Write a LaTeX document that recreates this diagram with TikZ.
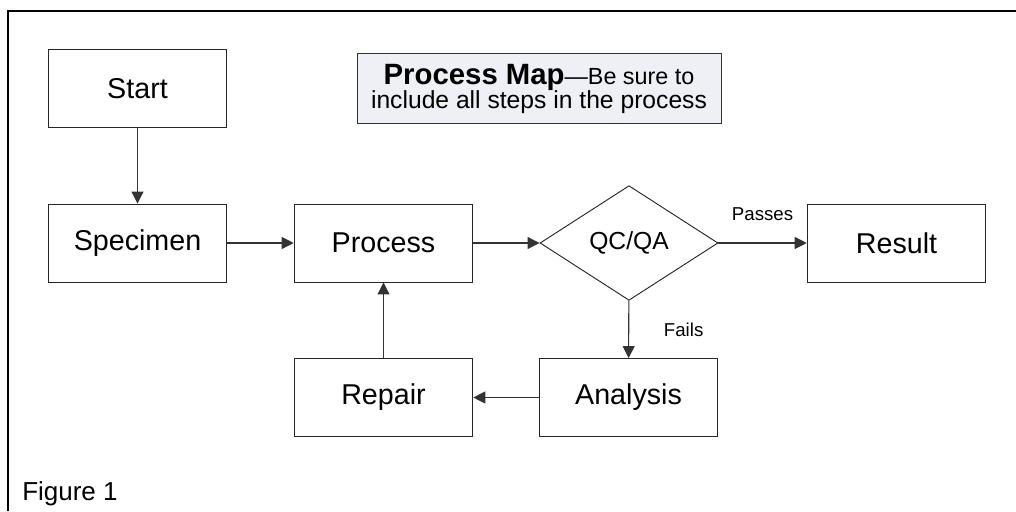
\documentclass[tikz,border=0pt]{standalone}
\usepackage{fontspec}
\setmainfont{Liberation Sans}
\usepackage{xcolor}
\usepackage{tikz}
\usetikzlibrary{arrows.meta,positioning,shapes.geometric}

\begin{document}
\begin{tikzpicture}[
    x=0.75pt,y=-0.75pt,
    stepbox/.style={draw=black!85,line width=0.7pt,minimum width=134pt,minimum height=58.5pt,
      inner sep=0pt,font=\fontsize{21.5}{24}\selectfont},
    flow/.style={draw=flowline,line width=0.8pt,-{Triangle[length=9pt,width=9pt]}},
    tag/.style={font=\fontsize{14}{16}\selectfont,inner sep=0pt}
  ]
  \colorlet{flowline}{black!80}
  \definecolor{notefill}{RGB}{238,240,245}
  \useasboundingbox (0,0) rectangle (1016,511);
  % frame
  \draw [line width=1.6pt] (8,511) -- (8,11) -- (1016,11);
  % boxes
  \node [stepbox] (start) at (137.5,88.5) {Start};
  \node [stepbox] (specimen) at (137.5,243) {Specimen};
  \node [stepbox] (process) at (383.5,243) {Process};
  \node [draw=black!85,diamond,aspect=1.55,line width=0.7pt,minimum width=133.5pt,minimum height=86pt,
    inner sep=0pt,font=\fontsize{18.5}{21}\selectfont] (qc) at (629,243) {QC/QA};
  \node [stepbox] (result) at (896.5,243) {Result};
  \node [stepbox] (analysis) at (628.5,397.5) {Analysis};
  \node [stepbox] (repair) at (383.5,397.5) {Repair};
  % note
  \node [draw=black!80,fill=notefill,line width=0.7pt,minimum width=273pt,minimum height=52pt,
    align=center,inner sep=2pt] (note) at (539,88.5)
    {{\fontsize{22}{24}\selectfont\bfseries Process Map}{\fontsize{17.5}{20}\selectfont---Be sure to}\\[-1pt]
     {\fontsize{18.5}{21}\selectfont include all steps in the process}};
  % connectors
  \draw [flow] (start) -- (specimen);
  \draw [flow] (specimen) -- (process);
  \draw [flow] (process) -- (qc);
  \draw [flow] (qc) -- node [tag,above=16pt] {Passes} (result);
  \draw [flow] (qc) -- node [tag,right=26pt] {Fails} (analysis);
  \draw [flow] (analysis) -- (repair);
  \draw [flow] (repair) -- (process);
  \node [anchor=west,font=\fontsize{19.5}{22}\selectfont,inner sep=0pt] (fig) at (22,494) {Figure 1};
\end{tikzpicture}
\end{document}
